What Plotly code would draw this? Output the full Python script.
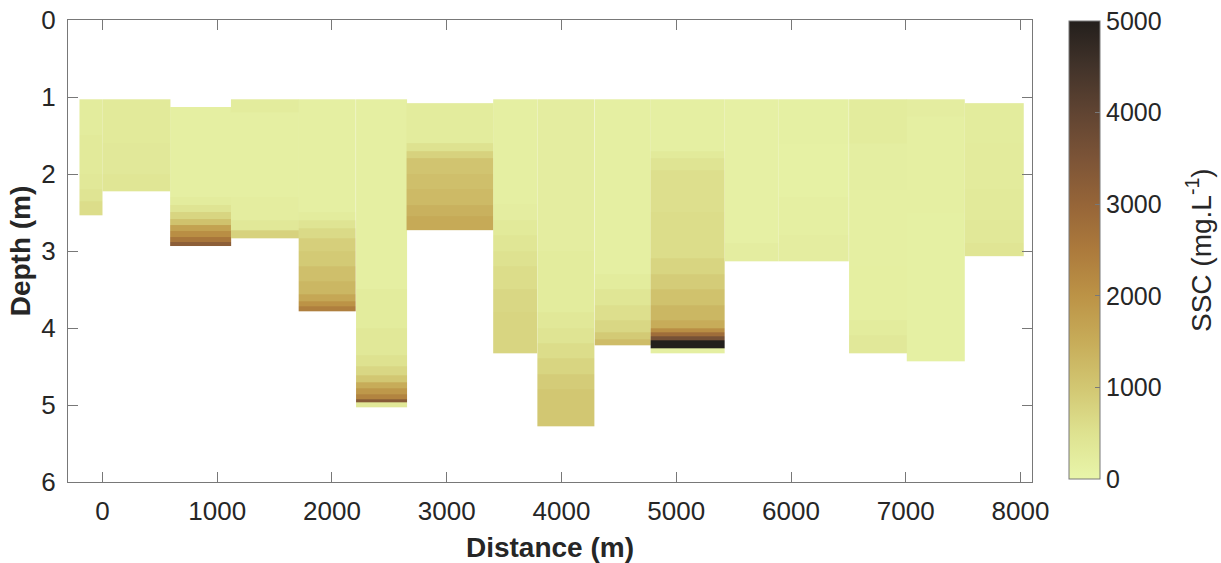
import plotly.graph_objects as go

# Distance edges (m) of each sampled column (16 stations)
DIST_EDGES = [-200, 0, 590, 1120, 1710, 2210, 2650, 3405, 3790, 4290, 4777,
              5422, 5893, 6506, 7009, 7514, 8026]

# Depth layer boundaries (m) per station, top to bottom
LAYER_DEPTHS = [
    [1.03, 1.5, 2.0, 2.2, 2.35, 2.53],
    [1.03, 1.6, 2.0, 2.23],
    [1.13, 2.3, 2.4, 2.5, 2.58, 2.66, 2.74, 2.82, 2.88, 2.93],
    [1.03, 1.2, 2.3, 2.6, 2.73, 2.83],
    [1.03, 2.5, 2.6, 2.7, 2.83, 3.0, 3.2, 3.4, 3.56, 3.65, 3.72, 3.78],
    [1.03, 3.5, 4.0, 4.35, 4.5, 4.62, 4.7, 4.78, 4.86, 4.92, 4.97, 5.03],
    [1.08, 1.6, 1.7, 1.8, 2.0, 2.2, 2.4, 2.55, 2.73],
    [1.03, 2.4, 2.6, 2.8, 3.0, 3.2, 3.5, 3.8, 4.33],
    [1.03, 3.0, 3.8, 4.0, 4.2, 4.4, 4.6, 4.8, 5.28],
    [1.03, 3.3, 3.5, 3.7, 3.9, 4.05, 4.15, 4.23],
    [1.03, 1.7, 1.8, 1.95, 2.5, 3.1, 3.3, 3.5, 3.7, 3.9, 4.0, 4.06, 4.11, 4.16, 4.26, 4.33],
    [1.03, 2.9, 3.13],
    [1.03, 1.6, 2.3, 2.8, 3.13],
    [1.03, 1.6, 2.2, 3.2, 3.9, 4.1, 4.33],
    [1.03, 1.25, 2.5, 4.43],
    [1.08, 1.6, 2.2, 2.6, 2.9, 3.07],
]

# SSC (mg/L) per layer, top to bottom
SSC = [
    [250, 300, 350, 450, 600],
    [300, 330, 400],
    [150, 250, 450, 750, 1100, 1700, 2100, 2600, 3200],
    [250, 160, 220, 350, 800],
    [150, 250, 450, 650, 850, 950, 1150, 1300, 1600, 2000, 2400],
    [150, 250, 350, 500, 700, 1000, 1500, 1900, 2300, 3300, 350],
    [250, 500, 800, 1050, 1150, 1250, 1400, 1550],
    [150, 200, 300, 400, 500, 600, 700, 750],
    [200, 250, 350, 450, 600, 750, 900, 1000],
    [150, 250, 400, 550, 700, 950, 1200],
    [150, 300, 450, 550, 600, 750, 900, 1100, 1300, 1500, 2100, 2800, 3600, 5000, 150],
    [120, 200],
    [130, 110, 150, 200],
    [250, 180, 150, 170, 250, 330],
    [200, 160, 140],
    [250, 270, 300, 350, 420],
]

X_TICKS = [0, 1000, 2000, 3000, 4000, 5000, 6000, 7000, 8000]
Y_TICKS = [0, 1, 2, 3, 4, 5, 6]
CB_TICKS = [0, 1000, 2000, 3000, 4000, 5000]

TURBID = [
    [0.0, "rgb(232,245,170)"],
    [0.1, "rgb(222,226,144)"],
    [0.2, "rgb(210,199,114)"],
    [0.3, "rgb(199,172,89)"],
    [0.4, "rgb(188,147,70)"],
    [0.5, "rgb(172,122,60)"],
    [0.6, "rgb(150,101,56)"],
    [0.7, "rgb(124,84,55)"],
    [0.8, "rgb(96,68,50)"],
    [0.9, "rgb(66,51,42)"],
    [1.0, "rgb(35,31,28)"],
]

TXT = "rgb(38,38,38)"
AX = "rgb(120,120,120)"
FONT = "Liberation Sans, Arial, sans-serif"

fig = go.Figure()
for i in range(len(SSC)):
    fig.add_trace(go.Heatmap(
        x=[DIST_EDGES[i], DIST_EDGES[i + 1]],
        y=LAYER_DEPTHS[i],
        z=[[v] for v in SSC[i]],
        coloraxis="coloraxis",
        hoverinfo="skip",
    ))

fig.update_layout(
    width=1221, height=563,
    margin=dict(l=68, r=189, t=20, b=81, autoexpand=False),
    paper_bgcolor="white", plot_bgcolor="white",
    font=dict(family=FONT, size=26, color=TXT),
    coloraxis=dict(
        cmin=0, cmax=5000, colorscale=TURBID,
        colorbar=dict(
            x=1.0384, xanchor="left", xpad=0,
            y=0.502, yanchor="middle", ypad=0,
            len=458, lenmode="pixels",
            thickness=31, thicknessmode="pixels",
            outlinecolor=AX, outlinewidth=1,
            tickvals=CB_TICKS, ticks="inside", ticklen=5, tickcolor=AX,
            tickfont=dict(family=FONT, size=25, color=TXT),
        ),
    ),
    xaxis=dict(
        range=[-300, 8100], tickvals=X_TICKS, ticks="inside", ticklen=10,
        tickcolor=AX, showline=True, linecolor=AX, linewidth=1, mirror="ticks",
        showgrid=False, zeroline=False, ticklabelstandoff=6,
        title=dict(text="<b>Distance (m)</b>", standoff=12,
                   font=dict(family=FONT, size=28, color=TXT)),
        tickfont=dict(family=FONT, size=26, color=TXT),
    ),
    yaxis=dict(
        range=[6, 0], tickvals=Y_TICKS, ticks="inside", ticklen=10,
        tickcolor=AX, showline=True, linecolor=AX, linewidth=1, mirror="ticks",
        showgrid=False, zeroline=False, ticklabelstandoff=6,
        title=dict(text="<b>Depth (m)</b>", standoff=2,
                   font=dict(family=FONT, size=28, color=TXT)),
        tickfont=dict(family=FONT, size=26, color=TXT),
    ),
    annotations=[dict(
        text="SSC (mg.L<sup>-1</sup>)", textangle=-90,
        xref="paper", yref="paper",
        x=(1199 - 68) / 964, y=(482 - 250) / 462,
        xanchor="center", yanchor="middle", showarrow=False,
        font=dict(family=FONT, size=28, color=TXT),
    )],
)

fig.write_html("out.html")
